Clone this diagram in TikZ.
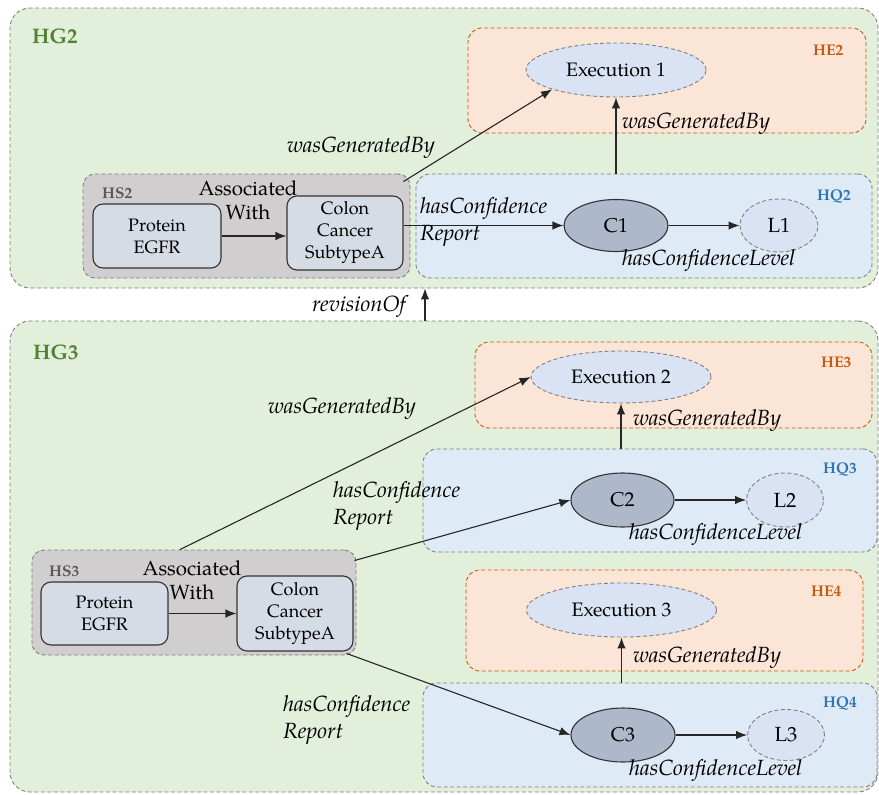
\documentclass[tikz,border=0pt]{standalone}
\usepackage{fontspec}
\setmainfont{texgyrepagella}[Extension=.otf,UprightFont=*-regular,BoldFont=*-bold,ItalicFont=*-italic,BoldItalicFont=*-bolditalic]
\usetikzlibrary{arrows.meta,shapes.geometric}

\definecolor{groupfill}{HTML}{E2EFDA}
\definecolor{groupText}{HTML}{548235}
\definecolor{execFill}{HTML}{FBE5D6}
\definecolor{execLine}{HTML}{C55A11}
\definecolor{qualFill}{HTML}{DEEBF7}
\definecolor{qualText}{HTML}{2E75B6}
\definecolor{stmtFill}{HTML}{D0CECE}
\definecolor{stmtText}{HTML}{595959}
\definecolor{entFill}{HTML}{D6DCE5}
\definecolor{confFill}{HTML}{ADB9CA}
\definecolor{ellFill}{HTML}{DAE3F3}
\definecolor{dashLine}{HTML}{808080}

\tikzset{
  dashborder/.style={draw=dashLine, line width=0.9pt, dash pattern=on 4pt off 2.5pt},
  container/.style={dashborder, inner sep=0pt, rectangle},
  hgbox/.style={container, fill=groupfill, rounded corners=20pt},
  hebox/.style={container, fill=execFill, draw=execLine, rounded corners=14pt},
  hqbox/.style={container, fill=qualFill, rounded corners=14pt},
  hsbox/.style={container, fill=stmtFill, rounded corners=12pt},
  entity/.style={draw=black!80, line width=1.1pt, fill=entFill, rounded corners=10pt,
    align=center, inner sep=0pt, font=\fontsize{18}{22}\selectfont},
  execnode/.style={ellipse, dashborder, fill=ellFill, inner sep=0pt,
    font=\fontsize{19.5}{22}\selectfont},
  confnode/.style={ellipse, draw=black!80, line width=1.1pt, fill=confFill, inner sep=0pt,
    font=\fontsize{20}{22}\selectfont},
  levelnode/.style={ellipse, dashborder, fill=ellFill, inner sep=0pt,
    font=\fontsize{20.5}{22}\selectfont},
  rel/.style={font=\fontsize{22}{27}\selectfont\itshape, inner sep=0pt, anchor=west, align=left},
  plain/.style={font=\fontsize{20.5}{24}\selectfont, inner sep=0pt, align=center},
  hglabel/.style={font=\fontsize{21}{24}\selectfont\bfseries, text=groupText, inner sep=0pt, anchor=west},
  helabel/.style={font=\fontsize{15.5}{17}\selectfont\bfseries, text=execLine, inner sep=0pt, anchor=west},
  hqlabel/.style={font=\fontsize{15.5}{17}\selectfont\bfseries, text=qualText, inner sep=0pt, anchor=west},
  hslabel/.style={font=\fontsize{15.5}{17}\selectfont\bfseries, text=stmtText, inner sep=0pt, anchor=west},
  arr/.style={-{Latex[length=11pt,width=8.5pt]}, line width=1.1pt, draw=black!85},
}

\begin{document}
\begin{tikzpicture}[x=1pt, y=-1pt]
\useasboundingbox (0,0) rectangle (879,795);

% ---------------- graph HG2 ----------------
\node[hgbox, minimum width=868pt, minimum height=280pt] (hg2) at (444,148) {};
\node[hglabel] (hg2lab) at (32,36) {HG2};

\node[hebox, minimum width=398pt, minimum height=105pt] (he2) at (667,80.5) {};
\node[helabel] (he2lab) at (813,50) {HE2};
\node[hqbox, minimum width=456pt, minimum height=104pt] (hq2) at (644,226) {};
\node[hqlabel] (hq2lab) at (817,197) {HQ2};
\node[hsbox, minimum width=327pt, minimum height=104pt] (hs2) at (246.5,226) {};
\node[hslabel] (hs2lab) at (102,193) {HS2};

\node[execnode, minimum width=180pt, minimum height=54pt] (exec1) at (616,70) {Execution 1};
\node[confnode, minimum width=104pt, minimum height=52pt] (c1) at (616,225.5) {C1};
\node[levelnode, minimum width=78pt, minimum height=53pt] (l1) at (779,225.5) {L1};
\node[entity, minimum width=128pt, minimum height=64pt] (prot2) at (157,236) {Protein\\EGFR};
\node[entity, minimum width=116pt, minimum height=74pt] (colon2) at (345,233) {Colon\\Cancer\\SubtypeA};
\node[plain] (assoc2) at (248,200) {Associated\\With};

\draw[arr] (prot2.east) -- (prot2.east -| colon2.west);
\draw[arr] (colon2.east |- c1.west) -- (c1.west);
\draw[arr] (c1.east) -- (l1.west);
\draw[arr] (hq2.north -| exec1.south) -- (exec1.south);
\draw[arr] ([shift={(-7,8)}]hs2.north east) -- (exec1.south west);

\node[rel] (gen2a) at (287,147) {wasGeneratedBy};
\node[rel] (gen2b) at (622,123) {wasGeneratedBy};
\node[rel] (rep2) at (420,222) {hasConfidence\\Report};
\node[rel] (lev2) at (622,260) {hasConfidenceLevel};

% ---------------- graph HG3 ----------------
\node[hgbox, minimum width=868pt, minimum height=471pt] (hg3) at (444,556.5) {};
\node[hglabel] (hg3lab) at (33,352) {HG3};

\draw[arr] ([xshift=-19pt]hg3.north) -- ([xshift=-19pt]hg2.south);
\node[rel, anchor=east] (revlab) at (406,306) {revisionOf};

\node[hebox, minimum width=397pt, minimum height=86pt] (he3) at (673.5,385) {};
\node[helabel] (he3lab) at (821,362) {HE3};
\node[hqbox, minimum width=454pt, minimum height=103pt] (hq3) at (650,500.5) {};
\node[hqlabel] (hq3lab) at (823,470) {HQ3};
\node[hebox, minimum width=397pt, minimum height=101pt] (he4) at (664.5,620.5) {};
\node[helabel] (he4lab) at (811,591) {HE4};
\node[hqbox, minimum width=454pt, minimum height=104pt] (hq4) at (650,735) {};
\node[hqlabel] (hq4lab) at (823,704) {HQ4};
\node[hsbox, minimum width=324pt, minimum height=105pt] (hs3) at (194,602.5) {};
\node[hslabel] (hs3lab) at (49,571) {HS3};

\node[execnode, minimum width=180pt, minimum height=52pt] (exec2) at (621,377) {Execution 2};
\node[execnode, minimum width=190pt, minimum height=54pt] (exec3) at (621.5,610) {Execution 3};
\node[confnode, minimum width=103pt, minimum height=54pt] (c2) at (622.5,500) {C2};
\node[levelnode, minimum width=77pt, minimum height=54pt] (l2) at (785,500) {L2};
\node[confnode, minimum width=104pt, minimum height=54pt] (c3) at (623,735) {C3};
\node[levelnode, minimum width=77pt, minimum height=51pt] (l3) at (786,735) {L3};
\node[entity, minimum width=127pt, minimum height=63pt] (prot3) at (104.5,613.5) {Protein\\EGFR};
\node[entity, minimum width=116pt, minimum height=75pt] (colon3) at (295,613.5) {Colon\\Cancer\\SubtypeA};
\node[plain] (assoc3) at (192,580.5) {Associated\\With};

\draw[arr] (prot3.east) -- (prot3.east -| colon3.west);
\draw[arr] (c2.east) -- (l2.west);
\draw[arr] (c3.east) -- (l3.west);
\draw[arr] (hq3.north -| exec2.south) -- (exec2.south);
\draw[arr] (hq4.north -| exec3.south) -- (exec3.south);
\draw[arr] ([xshift=-14pt]hs3.north) -- (exec2.west);
\draw[arr] ([shift={(-2,11)}]hs3.north east) -- (c2.west);
\draw[arr] ([shift={(-10,-2)}]hs3.south east) -- (c3.west);

\node[rel] (gen3a) at (268,408) {wasGeneratedBy};
\node[rel] (gen3b) at (633,420) {wasGeneratedBy};
\node[rel] (gen4) at (633,657) {wasGeneratedBy};
\node[rel] (rep3) at (333,505.5) {hasConfidence\\Report};
\node[rel] (rep4) at (283,720) {hasConfidence\\Report};
\node[rel] (lev3) at (629,534) {hasConfidenceLevel};
\node[rel] (lev4) at (629,770) {hasConfidenceLevel};
\end{tikzpicture}
\end{document}
